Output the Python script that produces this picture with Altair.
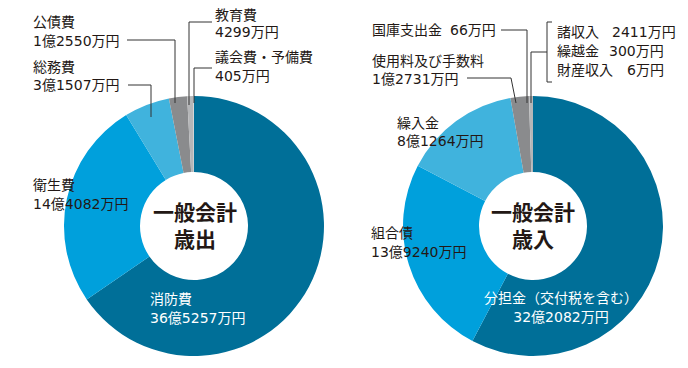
import altair as alt
import pandas as pd

# ---- data ----
exp_names = ["消防費", "衛生費", "総務費", "公債費", "教育費", "議会費・予備費"]
exp_values = [365257, 144082, 31507, 12550, 4299, 405]  # 万円
rev_names = ["分担金", "組合債", "繰入金", "使用料及び手数料", "国庫支出金", "諸収入・繰越金・財産収入"]
rev_values = [322082, 139240, 81264, 12731, 66, 2717]  # 万円

exp_colors = ["#006f98", "#00a0dc", "#40b3dd", "#8a8b8d", "#b5b6b8", "#d0d1d3"]
rev_colors = ["#006f98", "#00a0dc", "#40b3dd", "#8a8b8d", "#c8c9cb", "#b5b6b8"]

FONT = "DejaVu Sans, Noto Sans CJK JP"
TFONT = "Noto Sans CJK JP"
INK = "#231815"
OFF = 8  # page margin
FS = 14


def P(v):
    return v - OFF


exp_df = pd.DataFrame({"name": exp_names, "value": exp_values, "idx": range(len(exp_names))})
rev_df = pd.DataFrame({"name": rev_names, "value": rev_values, "idx": range(len(rev_names))})

all_names = exp_names + rev_names
all_colors = exp_colors + rev_colors
color_scale = alt.Scale(domain=all_names, range=all_colors)


def pie(df, cx, cy):
    return alt.Chart(df).mark_arc(radius=130, innerRadius=54).encode(
        theta=alt.Theta("value:Q", stack=True),
        order=alt.Order("idx:Q"),
        color=alt.Color("name:N", scale=color_scale, legend=None),
        x=alt.value(P(cx)),
        y=alt.value(P(cy)),
    )


one = alt.Data(values=[{"a": 0}])


def txt(s, x, y, size=FS, color=INK, align="left", weight="normal", font=FONT):
    return alt.Chart(one).mark_text(
        text=s, font=font, fontSize=size, color=color, align=align,
        baseline="middle", fontWeight=weight,
    ).encode(x=alt.value(P(x)), y=alt.value(P(y)))


def seg(x1, y1, x2, y2):
    return alt.Chart(one).mark_rule(color="#333333", strokeWidth=1).encode(
        x=alt.value(P(x1)), y=alt.value(P(y1)), x2=alt.value(P(x2)), y2=alt.value(P(y2))
    )


layers = [pie(exp_df, 194, 226), pie(rev_df, 533, 226)]

# center titles
layers += [
    txt("一般会計", 195, 214, size=21, align="center", weight="bold", font=TFONT),
    txt("歳出", 195, 241, size=21, align="center", weight="bold", font=TFONT),
    txt("一般会計", 533, 214, size=21, align="center", weight="bold", font=TFONT),
    txt("歳入", 533, 241, size=21, align="center", weight="bold", font=TFONT),
]

# left labels
layers += [
    txt("公債費", 33, 23), txt("1億2550万円", 33, 42),
    txt("総務費", 33, 68), txt("3億1507万円", 33, 86),
    txt("教育費", 215, 16), txt("4299万円", 215, 33),
    txt("議会費・予備費", 215, 58), txt("405万円", 215, 77),
    txt("衛生費", 33, 186), txt("14億4082万円", 33, 205),
    txt("消防費", 150, 300, color="white"), txt("36億5257万円", 150, 319, color="white"),
]
layers += [
    seg(127, 40, 175, 40), seg(175, 40, 175, 103),
    seg(128, 85, 151, 85), seg(151, 85, 151, 117),
    seg(212, 22, 189, 22), seg(189, 22, 189, 105),
    seg(212, 68, 194, 68), seg(194, 68, 194, 103),
]

# right labels
layers += [
    txt("国庫支出金", 372, 31), txt("66万円", 450, 31),
    txt("使用料及び手数料", 372, 62), txt("1億2731万円", 372, 80),
    txt("繰入金", 397, 124), txt("8億1264万円", 397, 142),
    txt("組合債", 371, 234), txt("13億9240万円", 371, 253),
    txt("諸収入", 557, 33), txt("2411万円", 612, 33),
    txt("繰越金", 557, 52), txt("300万円", 609, 52),
    txt("財産収入", 557, 71), txt("6万円", 627, 71),
    txt("分担金（交付税を含む）", 561, 299, color="white", align="center"),
    txt("32億2082万円", 561, 318, color="white", align="center"),
]
layers += [
    seg(501, 30, 527, 30), seg(527, 30, 527, 103),
    seg(467, 78, 511, 78), seg(511, 78, 516, 103),
    seg(547, 22, 547, 82), seg(547, 22, 552, 22), seg(547, 82, 552, 82),
    seg(547, 52, 531, 52), seg(531, 52, 531, 103),
]

chart = alt.layer(*layers).resolve_scale(theta="independent").properties(
    width=672, height=352, padding=0, autosize=alt.AutoSizeParams(type="none")
).configure_view(stroke=None)

chart.save("out.html", embed_options={"renderer": "svg", "actions": False})
